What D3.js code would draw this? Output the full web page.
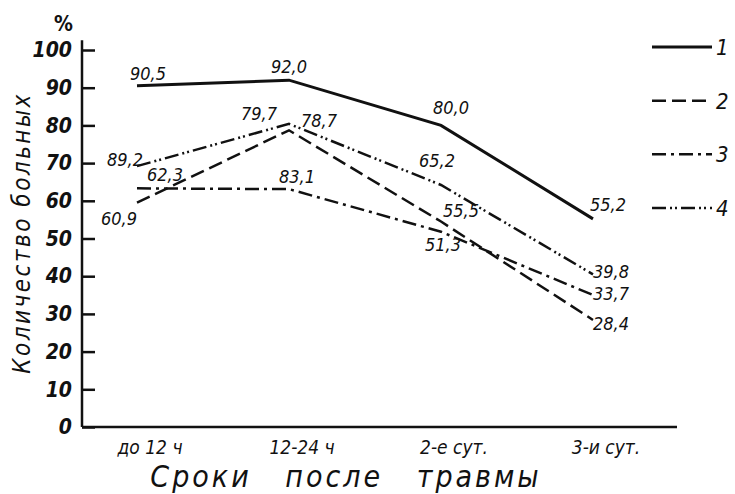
<!DOCTYPE html>
<html lang="ru">
  <head>
    <meta charset="utf-8">
    <title></title>
    <script src="https://d3js.org/d3.v7.min.js"></script>
    <style>
      body { margin: 0; background: #fff; }
      svg text { font-family: "Liberation Sans Narrow", "DejaVu Sans Condensed", sans-serif; font-style: italic; fill: #111; }
    </style>
  </head>
  <body>
    <svg class="chart"></svg>
    <script>
      // значения
      const categories = ["до 12 ч", "12-24 ч", "2-е сут.", "3-и сут."];
      const yTicks = [0, 10, 20, 30, 40, 50, 60, 70, 80, 90, 100];
      const seriesNames = ["1", "2", "3", "4"];
      const series1 = [90.5, 92.0, 80.0, 55.2];
      const series2 = [59.5, 78.7, 54.5, 28.4];
      const series3 = [63.3, 63.1, 51.8, 35.0];
      const series4 = [69.2, 80.4, 64.2, 40.5];
      // подписи как напечатаны
      const labels1 = ["90,5", "92,0", "80,0", "55,2"];
      const labels2 = ["60,9", "78,7", "55,5", "28,4"];
      const labels3 = ["62,3", "83,1", "51,3", "33,7"];
      const labels4 = ["89,2", "79,7", "65,2", "39,8"];

      // смещения подписей (anchor, dx, dy)
      const labelPos = [
        [["start", -7, -6], ["middle", 0, -7], ["middle", 10, -11], ["start", -3, -8]],
        [["end", 0, 22], ["start", 12, -3], ["start", 2, -5], ["start", 0, 10]],
        [["start", 10, -7], ["middle", 8, -6], ["middle", 2, 19], ["start", 0, 5]],
        [["end", 6, 0], ["end", -12, -4], ["middle", -4, -18], ["start", 0, 4]]
      ];
      const dashes = [null, "14,6", "14,5,3,5", "14,4,2,3,2,4"];
      const widths = [3, 2.5, 2.5, 2.5];

      const svg = d3.select(".chart").attr("width", 735).attr("height", 494);

      const x = d3.scalePoint().domain(categories).range([137, 593]);
      const y = d3.scaleLinear().domain([0, 100]).range([427, 50]);

      // ось Y
      svg.append("line")
        .attr("x1", 82).attr("x2", 82)
        .attr("y1", y(102.6)).attr("y2", y(0))
        .attr("stroke", "#111").attr("stroke-width", 2.5);
      const yAxis = svg.append("g")
        .attr("transform", "translate(82,0)")
        .call(d3.axisLeft(y).tickValues(yTicks).tickSizeInner(-13).tickSizeOuter(0).tickPadding(10));
      yAxis.select(".domain").remove();
      yAxis.selectAll(".tick line").attr("stroke", "#111").attr("stroke-width", 2.5);
      yAxis.selectAll(".tick text")
        .style("font-size", "21px").style("font-weight", "bold")
        .attr("fill", "#111");

      svg.append("text").attr("x", 73).attr("y", 31)
        .attr("text-anchor", "end")
        .style("font-size", "21px").style("font-style", "normal").style("font-weight", "bold")
        .text("%");

      // ось X
      svg.append("line")
        .attr("x1", 82).attr("x2", 677)
        .attr("y1", y(0)).attr("y2", y(0))
        .attr("stroke", "#111").attr("stroke-width", 2.5);
      svg.append("g").selectAll("text").data(categories).enter()
        .append("text")
        .attr("x", d => x(d) + 13)
        .attr("y", 454)
        .attr("text-anchor", "middle")
        .style("font-size", "19px")
        .text(d => d);

      svg.append("text")
        .attr("x", 346).attr("y", 487)
        .attr("text-anchor", "middle")
        .style("font-size", "30px").style("letter-spacing", "3px").style("word-spacing", "22px")
        .text("Сроки после травмы");

      svg.append("text")
        .attr("transform", "translate(30,233) rotate(-90)")
        .attr("text-anchor", "middle")
        .style("font-size", "24px").style("letter-spacing", "2.5px")
        .text("Количество больных");

      // линии
      const allSeries = [series1, series2, series3, series4];
      const allLabels = [labels1, labels2, labels3, labels4];
      const line = d3.line().x((d, i) => x(categories[i])).y(d => y(d));

      allSeries.forEach(function(s, k) {
        svg.append("path")
          .datum(s)
          .attr("d", line)
          .attr("fill", "none")
          .attr("stroke", "#111")
          .attr("stroke-width", widths[k])
          .attr("stroke-dasharray", dashes[k]);

        svg.append("g").selectAll("text").data(allLabels[k]).enter()
          .append("text")
          .attr("x", (d, i) => x(categories[i]) + labelPos[k][i][1])
          .attr("y", (d, i) => y(s[i]) + labelPos[k][i][2])
          .attr("text-anchor", (d, i) => labelPos[k][i][0])
          .style("font-size", "18px")
          .text(d => d);
      });

      // легенда
      const legendY = d3.scalePoint().domain(seriesNames).range([47, 208]);
      const legend = svg.append("g");
      legend.selectAll("line").data(seriesNames).enter()
        .append("line")
        .attr("x1", 652).attr("x2", 712)
        .attr("y1", d => legendY(d)).attr("y2", d => legendY(d))
        .attr("stroke", "#111")
        .attr("stroke-width", (d, i) => widths[i])
        .attr("stroke-dasharray", (d, i) => dashes[i]);
      legend.selectAll("text").data(seriesNames).enter()
        .append("text")
        .attr("x", 716)
        .attr("y", d => legendY(d) + 8)
        .style("font-size", "22px")
        .text(d => d);
    </script>
  </body>
</html>
